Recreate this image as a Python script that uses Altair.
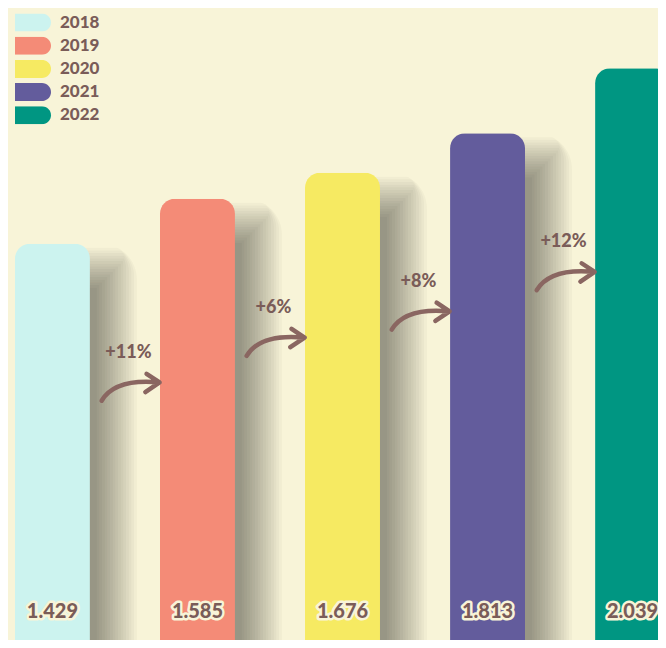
import altair as alt
import pandas as pd

# ---- data -------------------------------------------------------------
years = ["2018", "2019", "2020", "2021", "2022"]
values = [1429, 1585, 1676, 1813, 2039]
value_labels = ["1.429", "1.585", "1.676", "1.813", "2.039"]
growth_labels = ["+11%", "+6%", "+8%", "+12%"]
colors = ["#CCF3EF", "#F48B77", "#F6EA62", "#635C9C", "#009682"]

# ---- style ------------------------------------------------------------
BG = "#F8F4D8"
TEXT = "#7A5C58"
ARROW = "#8A6661"
FONT = "Lato"

df = pd.DataFrame({"year": years, "value": values, "label": value_labels})
gdf = pd.DataFrame({"year": years[:-1], "value": values[:-1], "growth": growth_labels})

xs = alt.Scale(domain=years, range=[0, 669], paddingInner=0.483, paddingOuter=0.048)
ys = alt.Scale(domain=[0, 2248], range=[647, 0])
X = alt.X("year:N", scale=xs, axis=None)
Y = alt.Y("value:Q", scale=ys, axis=None)

SWATCH = "M-1,-0.5 L0.5,-0.5 A0.5,0.5 0 0 1 0.5,0.5 L-1,0.5 Z"
ARROW_PATH = "M-0.93,0.42 Q-0.5,-0.3 0.92,-0.17 M0.52,-0.45 L0.94,-0.17 L0.48,0.14"

# soft drop shadows (stacked translucent layers approximating a blur)
shadow_layers = []
n = 16
E = 20.0
alpha = 1 - (1 - 0.35) ** (1 / n)
for i in range(n):
    e = -E + i * 2 * E / (n - 1)
    w = 37.5 + 27 + e
    shadow_layers.append(
        alt.Chart(df).mark_bar(
            color="black", opacity=alpha, width=w, xOffset=w / 2,
            yOffset=24 - e,
            cornerRadiusTopRight=max(4.0, 16 + e),
        ).encode(x=X, y=Y)
    )

bars = alt.Chart(df).mark_bar(
    cornerRadiusTopLeft=15, cornerRadiusTopRight=15
).encode(
    x=X, y=Y,
    color=alt.Color(
        "year:N",
        scale=alt.Scale(domain=years, range=colors),
        legend=alt.Legend(
            orient="none", legendX=7, legendY=5.5, title=None, padding=0,
            symbolType=SWATCH, symbolSize=1296, symbolStrokeWidth=0,
            symbolOpacity=1, clipHeight=18, rowPadding=5.2,
            labelFont=FONT, labelFontSize=17, labelFontWeight=900,
            labelColor=TEXT, labelOffset=9,
        ),
    ),
)

arrows = alt.Chart(gdf).mark_point(
    shape=ARROW_PATH, filled=False, size=3844, stroke=ARROW, strokeWidth=4.5,
    strokeCap="round", strokeJoin="round", opacity=1, xOffset=78, yOffset=144,
).encode(x=X, y=Y)

growth = alt.Chart(gdf).mark_text(
    font=FONT, fontSize=18, fontWeight=900, color=TEXT, baseline="middle",
    xOffset=76, yOffset=109,
).encode(x=X, y=Y, text="growth:N")

label_y = alt.Y(datum=150, type="quantitative", scale=ys, axis=None)
val_halo = alt.Chart(df).mark_text(
    font=FONT, fontSize=20, fontWeight=900, fill=BG, stroke=BG, strokeWidth=5,
    strokeJoin="round", baseline="middle",
).encode(x=X, y=label_y, text="label:N")
val_text = alt.Chart(df).mark_text(
    font=FONT, fontSize=20, fontWeight=900, fill=TEXT, baseline="middle",
).encode(x=X, y=label_y, text="label:N")

chart = alt.layer(
    *shadow_layers, bars, arrows, growth, val_halo, val_text
).properties(
    width=650, height=632, background=BG, padding=0,
    autosize=alt.AutoSizeParams(type="none"),
).configure_view(stroke=None)

chart.save("out.html", embed_options={"renderer": "svg", "actions": False})
